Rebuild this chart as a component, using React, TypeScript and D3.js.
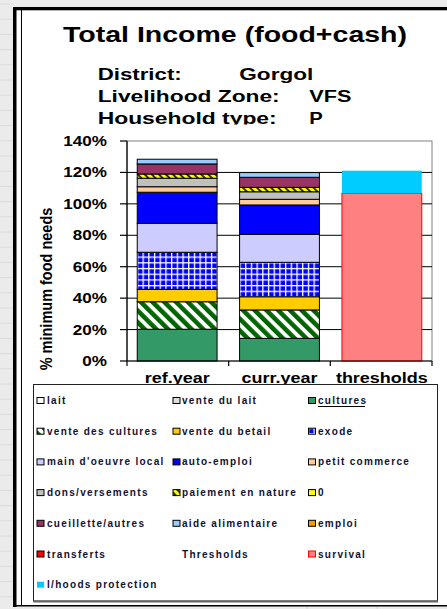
import React from "react";
import * as d3 from "d3";

const categories = ["ref.year", "curr.year", "thresholds"];
const yTicks = [0, 20, 40, 60, 80, 100, 120, 140];

const seriesKeys = [
  "lait", "vente du lait", "cultures", "vente des cultures", "vente du betail",
  "exode", "main d'oeuvre local", "auto-emploi", "petit commerce", "dons/versements",
  "paiement en nature", "0", "cueillette/autres", "aide alimentaire", "emploi",
  "transferts", "survival", "l/hoods protection",
];

const lait = [0, 0, 0];
const venteDuLait = [0, 0, 0];
const cultures = [20.2, 14.4, 0];
const venteDesCultures = [17.5, 18.1, 0];
const venteDuBetail = [7.9, 8.4, 0];
const exode = [23.6, 21.9, 0];
const mainDoeuvre = [18.4, 17.8, 0];
const autoEmploi = [19.8, 18.7, 0];
const petitCommerce = [3.5, 3.6, 0];
const donsVersements = [5.4, 4.8, 0];
const paiementNature = [2.7, 2.8, 0];
const zeroSeries = [0, 0, 0];
const cueillette = [6.4, 6.4, 0];
const aideAlimentaire = [3.0, 3.0, 0];
const emploi = [0, 0, 0];
const transferts = [0, 0, 0];
const survival = [0, 0, 106.7];
const protection = [0, 0, 14.4];

const seriesValues = [
  lait, venteDuLait, cultures, venteDesCultures, venteDuBetail, exode, mainDoeuvre,
  autoEmploi, petitCommerce, donsVersements, paiementNature, zeroSeries, cueillette,
  aideAlimentaire, emploi, transferts, survival, protection,
];

const legendItems = [
  "lait", "vente du lait", "cultures", "vente des cultures", "vente du betail", "exode",
  "main d'oeuvre local", "auto-emploi", "petit commerce", "dons/versements",
  "paiement en nature", "0", "cueillette/autres", "aide alimentaire", "emploi",
  "transferts", "Thresholds", "survival", "l/hoods protection",
];

const styles: Record<string, { fill: string; stroke: string }> = {
  "lait": { fill: "#FFFFFF", stroke: "#000" },
  "vente du lait": { fill: "#DDDDDD", stroke: "#000" },
  "cultures": { fill: "#339966", stroke: "#000" },
  "vente des cultures": { fill: "url(#hatchGreen)", stroke: "#000" },
  "vente du betail": { fill: "#FFCC00", stroke: "#000" },
  "exode": { fill: "url(#gridBlue)", stroke: "#000" },
  "main d'oeuvre local": { fill: "#CCCCFF", stroke: "#000" },
  "auto-emploi": { fill: "#0000FF", stroke: "#000" },
  "petit commerce": { fill: "#FFCC99", stroke: "#000" },
  "dons/versements": { fill: "#C0C0C0", stroke: "#000" },
  "paiement en nature": { fill: "url(#zigYellow)", stroke: "#000" },
  "0": { fill: "#FFFF00", stroke: "#000" },
  "cueillette/autres": { fill: "#993366", stroke: "#000" },
  "aide alimentaire": { fill: "#99CCFF", stroke: "#000" },
  "emploi": { fill: "#FF9900", stroke: "#000" },
  "transferts": { fill: "#FF0000", stroke: "#000" },
  "survival": { fill: "#FF8080", stroke: "#FF0000" },
  "l/hoods protection": { fill: "#00CCFF", stroke: "none" },
};

const FONT = "'Liberation Sans', Arial, sans-serif";

export default function App() {
  const W = 447, H = 609;
  const y = d3.scaleLinear().domain([0, 140]).range([361, 141]);
  const x = d3.scaleBand<string>().domain(categories).range([127, 432]).paddingInner(0.22).paddingOuter(0.1);

  const rows = categories.map((c, i) => {
    const r: Record<string, any> = { category: c };
    seriesKeys.forEach((k, j) => (r[k] = seriesValues[j][i]));
    return r;
  });
  const stacked = d3.stack<any>().keys(seriesKeys)(rows);

  const legendColX = [37, 173, 308.5];
  const legendTextX = [47, 182, 318];
  const legendRowY = (r: number) => 404 + r * 30.7;

  const leftLines = d3.range(-10, 40).map((k) => 156 + 15.2 * k).filter((v) => v > 0 && v < H);

  return (
    <svg width={W} height={H} style={{ position: "absolute", left: 0, top: 0, display: "block" }} fontFamily={FONT}>
      <defs>
        <pattern id="hatchGreen" patternUnits="userSpaceOnUse" width="8.3" height="8.3" patternTransform="rotate(45)">
          <rect width="8.3" height="8.3" fill="#006600" />
          <rect width="8.3" height="3.8" fill="#FFFFFF" />
        </pattern>
        <pattern id="gridBlue" patternUnits="userSpaceOnUse" width="5.7" height="5.7">
          <rect width="5.7" height="5.7" fill="#0000FF" />
          <rect x="0" y="0" width="5.7" height="1.3" fill="#FFFFFF" />
          <rect x="0" y="0" width="1.3" height="5.7" fill="#FFFFFF" />
        </pattern>
        <pattern id="zigYellow" patternUnits="userSpaceOnUse" width="5" height="5" patternTransform="rotate(45)">
          <rect width="5" height="5" fill="#FFFF00" />
          <rect width="5" height="2" fill="#333300" />
        </pattern>
        <clipPath id="subClip">
          <rect x="0" y="0" width={W} height="124.5" />
        </clipPath>
      </defs>

      {/* background (spreadsheet) */}
      <rect width={W} height={H} fill="#EBEBEB" />
      {leftLines.map((ly, i) => (
        <line key={i} x1={0} x2={13} y1={ly} y2={ly} stroke="#DCDCDC" strokeWidth={1} />
      ))}
      <line x1={307} x2={307} y1={606} y2={H} stroke="#D8D8D8" />
      <line x1={377} x2={377} y1={606} y2={H} stroke="#D8D8D8" />

      {/* chart area */}
      <rect x={13} y={7} width={W - 13} height={599} fill="#FFFFFF" />
      <rect x={13} y={7} width={3.5} height={600} fill="#000" />
      <rect x={13} y={7} width={W - 13} height={3.3} fill="#000" />
      <line x1={21.5} x2={21.5} y1={10} y2={606} stroke="#000" strokeWidth={1} />
      <line x1={13} x2={W} y1={605.8} y2={605.8} stroke="#000" strokeWidth={1.6} />

      {/* title */}
      <text x={63} y={42} fontSize={22} fontWeight="bold" textLength={344} lengthAdjust="spacingAndGlyphs" fill="#000">
        Total Income (food+cash)
      </text>
      <g clipPath="url(#subClip)" fontSize={16} fontWeight="bold" fill="#000">
        <text x={97.7} y={80} textLength={84} lengthAdjust="spacingAndGlyphs">District:</text>
        <text x={239.3} y={80} textLength={74} lengthAdjust="spacingAndGlyphs">Gorgol</text>
        <text x={97.7} y={102} textLength={182} lengthAdjust="spacingAndGlyphs">Livelihood Zone:</text>
        <text x={309.3} y={102} textLength={42} lengthAdjust="spacingAndGlyphs">VFS</text>
        <text x={97.7} y={123.7} textLength={179} lengthAdjust="spacingAndGlyphs">Household type:</text>
        <text x={309.3} y={123.7} textLength={13.5} lengthAdjust="spacingAndGlyphs">P</text>
      </g>

      {/* plot area */}
      <rect x={127} y={141} width={305} height={220} fill="#FFFFFF" stroke="#808080" strokeWidth={1} />
      {yTicks.filter((t) => t > 0 && t < 140).map((t) => (
        <line key={t} x1={127} x2={432} y1={y(t)} y2={y(t)} stroke="#000" strokeWidth={1} />
      ))}

      {/* bars */}
      {stacked.map((s) => (
        <g key={s.key}>
          {s.map((d, i) => {
            const h = y(d[0]) - y(d[1]);
            if (h <= 0.01) return null;
            const st = styles[s.key];
            return (
              <rect key={i} x={x(categories[i])} y={y(d[1])} width={x.bandwidth()} height={h}
                fill={st.fill} stroke={st.stroke} strokeWidth={1} />
            );
          })}
        </g>
      ))}

      {/* axes */}
      <line x1={127} x2={127} y1={141} y2={361} stroke="#000" strokeWidth={1.2} />
      <line x1={127} x2={432} y1={361} y2={361} stroke="#000" strokeWidth={1.2} />
      {yTicks.map((t) => (
        <line key={t} x1={120} x2={127} y1={y(t)} y2={y(t)} stroke="#000" strokeWidth={1.2} />
      ))}
      {[127, 228.7, 330.3, 432].map((tx) => (
        <line key={tx} x1={tx} x2={tx} y1={361} y2={366} stroke="#000" strokeWidth={1.2} />
      ))}
      {yTicks.map((t) => (
        <text key={t} transform={`translate(107,${y(t) + 5}) scale(1.22,1)`} textAnchor="end"
          fontSize={14} fontWeight="bold" fill="#000">
          {t}%
        </text>
      ))}
      {categories.map((c) => (
        <text key={c} transform={`translate(${(x(c) as number) + x.bandwidth() / 2},383.3) scale(1.2,1)`}
          textAnchor="middle" fontSize={15} fontWeight="bold" fill="#000">
          {c}
        </text>
      ))}
      <text transform="translate(51.5,289) scale(1.2,1) rotate(-90)" textAnchor="middle" fontSize={14.5}
        fontWeight="bold" fill="#000">
        % minimum food needs
      </text>

      {/* legend */}
      <rect x={33.5} y={384.5} width={404} height={216.5} fill="#FFFFFF" stroke="#222" strokeWidth={1} />
      <line x1={33.5} x2={438} y1={601.5} y2={601.5} stroke="#666" strokeWidth={2} />
      {legendItems.map((name, i) => {
        const col = i % 3, row = Math.floor(i / 3);
        const by = legendRowY(row);
        const st = styles[name];
        return (
          <g key={name}>
            {st && (
              <rect x={legendColX[col]} y={by - 6.5} width={7} height={6} fill={st.fill}
                stroke={name === "survival" ? "#FF0000" : name === "l/hoods protection" ? "none" : "#000"} strokeWidth={1} />
            )}
            <text x={legendTextX[col]} y={by} fontSize={10} fontWeight="bold" letterSpacing={1.3} fill="#111133">
              {name}
            </text>
            {name === "cultures" && (
              <line x1={318} x2={365} y1={by + 2.5} y2={by + 2.5} stroke="#000" strokeWidth={1} />
            )}
          </g>
        );
      })}
    </svg>
  );
}
